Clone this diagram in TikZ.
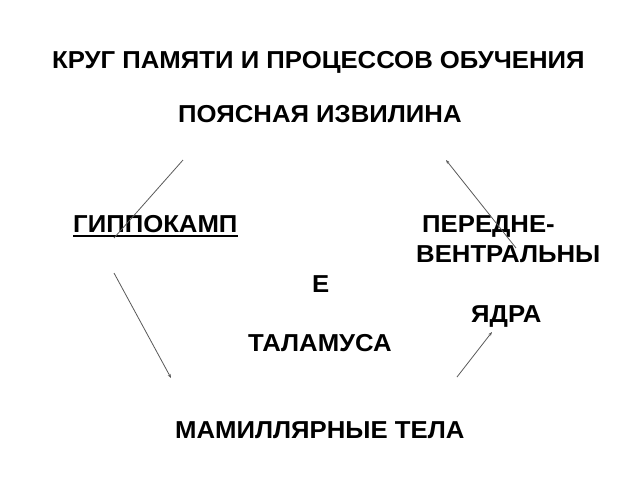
\documentclass[tikz,border=0pt]{standalone}
\usepackage{fontspec}
\setmainfont{Liberation Sans}[FakeStretch=1.05]
\usetikzlibrary{arrows.meta}
\begin{document}
\begin{tikzpicture}[x=1pt,y=-1pt,
  lbl/.style={anchor=base west,inner sep=0pt,font=\fontsize{24.5}{28}\selectfont\bfseries},
  conn/.style={draw=black!65,line width=0.8pt},
  tip/.style={-{Stealth[length=4pt,width=3pt]}}]
\useasboundingbox (0,0) rectangle (640,480);
\node[lbl] (title) at (52,68) {КРУГ ПАМЯТИ И ПРОЦЕССОВ ОБУЧЕНИЯ};
\node[lbl] (cing) at (178,122) {ПОЯСНАЯ ИЗВИЛИНА};
\node[lbl] (hip) at (73,232) {ГИППОКАМП};
\draw[line width=1.8pt] ([yshift=-4pt]hip.base west) -- ([yshift=-4pt]hip.base east);
\node[lbl] (ant1) at (422,232) {ПЕРЕДНЕ-};
\node[lbl] (ant2) at (416,262) {ВЕНТРАЛЬНЫ};
\node[lbl] (ant3) at (312,292) {Е};
\node[lbl] (ant4) at (471,322) {ЯДРА};
\node[lbl] (ant5) at (248,351) {ТАЛАМУСА};
\node[lbl] (mam) at (175,438) {МАМИЛЛЯРНЫЕ ТЕЛА};
\coordinate (a1) at (183,160);
\coordinate (a2) at (114,238);
\coordinate (b1) at (516,248);
\coordinate (b2) at (446,160);
\coordinate (c1) at (114,273);
\coordinate (c2) at (171,378);
\coordinate (d1) at (457,377);
\coordinate (d2) at (492,332);
\draw[conn] (a1) -- (a2);
\draw[conn,tip] (b1) -- (b2);
\draw[conn,tip] (c1) -- (c2);
\draw[conn,tip] (d1) -- (d2);
\end{tikzpicture}
\end{document}
